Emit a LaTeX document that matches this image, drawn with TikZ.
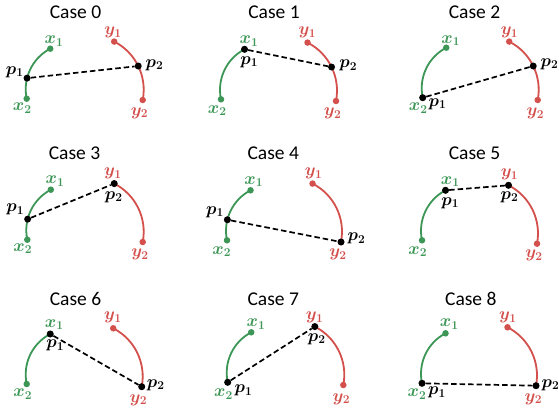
\documentclass[tikz,border=0pt]{standalone}
\usepackage[no-math]{fontspec}
\setmainfont{Carlito}
\usepackage{bm}
\usetikzlibrary{calc}
\definecolor{cgreen}{RGB}{60,150,85}
\definecolor{cred}{RGB}{212,80,76}
\tikzset{
  garc/.style={cgreen, line width=1.8pt},
  rarc/.style={cred, line width=1.8pt},
  gdot/.style={circle, fill=cgreen, inner sep=0pt, minimum size=6.5pt},
  rdot/.style={circle, fill=cred, inner sep=0pt, minimum size=6.5pt},
  pdot/.style={circle, fill=black, inner sep=0pt, minimum size=7pt},
  dline/.style={black, line width=1.7pt, dash pattern=on 5.5pt off 3pt},
  ttl/.style={inner sep=0pt, font=\fontsize{19.5}{23}\selectfont},
  glab/.style={inner sep=0pt, text=cgreen, font=\fontsize{17.5}{20}\selectfont},
  rlab/.style={inner sep=0pt, text=cred, font=\fontsize{17.5}{20}\selectfont},
  klab/.style={inner sep=0pt, text=black, font=\fontsize{17.5}{20}\selectfont},
}
% #1 prefix, #2 #3 = x2 (pixel, y down), #4 #5 = y2 (pixel, y down)
\newcommand\arcpair[5]{%
  \coordinate (#1gc) at ({#2+44.7},{412-#3+9.5});
  \coordinate (#1rc) at ({#4-53},{412-#5+10.3});
  \coordinate (#1cx1) at ($(#1gc)+(117.6:45.7)$);
  \coordinate (#1cx2) at ($(#1gc)+(192:45.7)$);
  \coordinate (#1cy1) at ($(#1rc)+(63:54)$);
  \coordinate (#1cy2) at ($(#1rc)+(-11:54)$);
  \coordinate (#1cp1) at ($(#1gc)+(166:45.7)$);
  \coordinate (#1cp2) at ($(#1rc)+(26:54)$);
  \draw[garc] (#1cx2) arc[start angle=192, end angle=117.6, radius=45.7];
  \draw[rarc] (#1cy1) arc[start angle=63, end angle=-11, radius=54];
  \node[gdot] (#1x1) at (#1cx1) {};
  \node[gdot] (#1x2) at (#1cx2) {};
  \node[rdot] (#1y1) at (#1cy1) {};
  \node[rdot] (#1y2) at (#1cy2) {};
}
% #1 prefix, #2 p1 coordinate, #3 p2 coordinate
\newcommand\pline[3]{%
  \node[pdot] (#1p1) at (#2) {};
  \node[pdot] (#1p2) at (#3) {};
  \draw[dline] (#1p1) -- (#1p2);
}
\newcommand\lab[5]{\node[#1] (#2) at ({#3},{412-#4}) {#5};}
\begin{document}
\begin{tikzpicture}[x=1pt,y=1pt]
\useasboundingbox (0,0) rectangle (559,412);
\fill[white] (0,0) rectangle (559,412);

% ---------- Case 0
\lab{ttl}{t0}{75.5}{12}{Case 0}
\arcpair{a}{26.7}{98.7}{142.7}{100}
\pline{a}{acp1}{acp2}
\lab{glab}{ax1l}{54}{41}{$\bm{x_1}$}
\lab{glab}{ax2l}{22.3}{108.3}{$\bm{x_2}$}
\lab{rlab}{ay1l}{113}{32.7}{$\bm{y_1}$}
\lab{rlab}{ay2l}{139.5}{113}{$\bm{y_2}$}
\lab{klab}{ap1l}{14.7}{72}{$\bm{p_1}$}
\lab{klab}{ap2l}{154.5}{65}{$\bm{p_2}$}

% ---------- Case 1
\lab{ttl}{t1}{274}{12}{Case 1}
\arcpair{b}{221}{99.3}{336}{101}
\pline{b}{bcx1}{bcp2}
\lab{glab}{bx1l}{249}{41.3}{$\bm{x_1}$}
\lab{glab}{bx2l}{217.3}{110.5}{$\bm{x_2}$}
\lab{rlab}{by1l}{307.3}{32.5}{$\bm{y_1}$}
\lab{rlab}{by2l}{332.7}{113.3}{$\bm{y_2}$}
\lab{klab}{bp1l}{249.3}{62.2}{$\bm{p_1}$}
\lab{klab}{bp2l}{348.3}{65.5}{$\bm{p_2}$}

% ---------- Case 2
\lab{ttl}{t2}{474.5}{12}{Case 2}
\arcpair{c}{422.7}{97.7}{537.7}{100}
\pline{c}{ccx2}{ccp2}
\lab{glab}{cx1l}{450.7}{40.8}{$\bm{x_1}$}
\lab{glab}{cx2l}{418.2}{108.3}{$\bm{x_2}$}
\lab{rlab}{cy1l}{509.5}{32.5}{$\bm{y_1}$}
\lab{rlab}{cy2l}{535.3}{113.3}{$\bm{y_2}$}
\lab{klab}{cp1l}{437.5}{104.2}{$\bm{p_1}$}
\lab{klab}{cp2l}{549.5}{64.2}{$\bm{p_2}$}

% ---------- Case 3
\lab{ttl}{t3}{74.5}{153.4}{Case 3}
\arcpair{d}{27.3}{239.7}{142.7}{242}
\pline{d}{dcp1}{dcy1}
\lab{glab}{dx1l}{55}{181.2}{$\bm{x_1}$}
\lab{glab}{dx2l}{22.8}{248.7}{$\bm{x_2}$}
\lab{rlab}{dy1l}{112.8}{173.7}{$\bm{y_1}$}
\lab{rlab}{dy2l}{140}{254.8}{$\bm{y_2}$}
\lab{klab}{dp1l}{15.3}{209.5}{$\bm{p_1}$}
\lab{klab}{dp2l}{113.8}{197}{$\bm{p_2}$}

% ---------- Case 4
\lab{ttl}{t4}{273.2}{153.4}{Case 4}
\arcpair{e}{227}{240.3}{341}{242}
\pline{e}{ecp1}{ecy2}
\lab{glab}{ex1l}{253.7}{181.5}{$\bm{x_1}$}
\lab{glab}{ex2l}{221.7}{251.5}{$\bm{x_2}$}
\lab{rlab}{ey1l}{313.7}{173.7}{$\bm{y_1}$}
\lab{rlab}{ey2l}{338}{254.3}{$\bm{y_2}$}
\lab{klab}{ep1l}{215}{212}{$\bm{p_1}$}
\lab{klab}{ep2l}{356.5}{238.7}{$\bm{p_2}$}

% ---------- Case 5
\lab{ttl}{t5}{474.5}{153.4}{Case 5}
\arcpair{f}{422}{240.3}{537}{243.7}
\pline{f}{fcx1}{fcy1}
\lab{glab}{fx1l}{450.3}{181.5}{$\bm{x_1}$}
\lab{glab}{fx2l}{417.8}{251.5}{$\bm{x_2}$}
\lab{rlab}{fy1l}{509.5}{174.5}{$\bm{y_1}$}
\lab{rlab}{fy2l}{534}{255.3}{$\bm{y_2}$}
\lab{klab}{fp1l}{450.3}{203}{$\bm{p_1}$}
\lab{klab}{fp2l}{509.5}{197}{$\bm{p_2}$}

% ---------- Case 6
\lab{ttl}{t6}{75.5}{299}{Case 6}
\arcpair{g}{26.7}{384}{141.7}{386.7}
\pline{g}{gcx1}{gcy2}
\lab{glab}{gx1l}{54.3}{324.8}{$\bm{x_1}$}
\lab{glab}{gx2l}{22.8}{394.3}{$\bm{x_2}$}
\lab{rlab}{gy1l}{112.8}{317.7}{$\bm{y_1}$}
\lab{rlab}{gy2l}{138.3}{400}{$\bm{y_2}$}
\lab{klab}{gp1l}{55.3}{345.7}{$\bm{p_1}$}
\lab{klab}{gp2l}{155.8}{385.2}{$\bm{p_2}$}

% ---------- Case 7
\lab{ttl}{t7}{273.2}{299}{Case 7}
\arcpair{h}{227.7}{382.3}{343.3}{385}
\pline{h}{hcx2}{hcy1}
\lab{glab}{hx1l}{256}{324}{$\bm{x_1}$}
\lab{glab}{hx2l}{223.5}{394}{$\bm{x_2}$}
\lab{rlab}{hy1l}{314.7}{317.7}{$\bm{y_1}$}
\lab{rlab}{hy2l}{341.3}{399}{$\bm{y_2}$}
\lab{klab}{hp1l}{243.5}{390.7}{$\bm{p_1}$}
\lab{klab}{hp2l}{316.8}{339}{$\bm{p_2}$}

% ---------- Case 8
\lab{ttl}{t8}{470.8}{299}{Case 8}
\arcpair{k}{422}{383.3}{536}{385.7}
\pline{k}{kcx2}{kcy2}
\lab{glab}{kx1l}{449.2}{324}{$\bm{x_1}$}
\lab{glab}{kx2l}{417}{394}{$\bm{x_2}$}
\lab{rlab}{ky1l}{507.8}{317.7}{$\bm{y_1}$}
\lab{rlab}{ky2l}{533.3}{399}{$\bm{y_2}$}
\lab{klab}{kp1l}{437}{392.3}{$\bm{p_1}$}
\lab{klab}{kp2l}{550.5}{385.2}{$\bm{p_2}$}
\end{tikzpicture}
\end{document}
